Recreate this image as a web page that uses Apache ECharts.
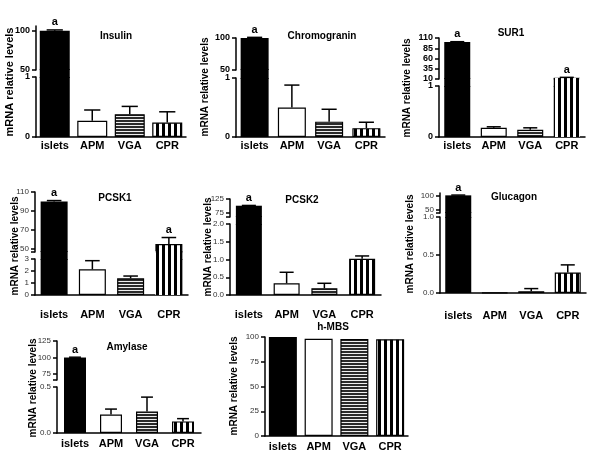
<!DOCTYPE html>
<html><head><meta charset="utf-8">
<script src="https://cdn.jsdelivr.net/npm/echarts@6/dist/echarts.min.js"></script>
<style>html,body{margin:0;padding:0;background:#fff}#c{width:600px;height:450px}</style>
</head><body><div id="c"></div>
<script>
// ---------- data ----------
const categories = ['islets', 'APM', 'VGA', 'CPR'];

const insulinValues = [100, 0.27, 0.38, 0.24];
const insulinErrors = [1, 0.18, 0.13, 0.18];
const insulinMarks = ['a', '', '', ''];
const insulinUpperRange = [50, 106];
const insulinUpperTicks = [50, 100];
const insulinLowerRange = [0, 1];
const insulinLowerTicks = [0, 1];

const chromograninValues = [100, 0.50, 0.26, 0.15];
const chromograninErrors = [1, 0.38, 0.21, 0.10];
const chromograninMarks = ['a', '', '', ''];
const chromograninUpperRange = [50, 100];
const chromograninUpperTicks = [50, 100];
const chromograninLowerRange = [0, 1];
const chromograninLowerTicks = [0, 1];

const sur1Values = [100, 0.18, 0.14, 13];
const sur1Errors = [1, 0.02, 0.04, 1];
const sur1Marks = ['a', '', '', 'a'];
const sur1UpperRange = [10, 110];
const sur1UpperTicks = [10, 35, 60, 85, 110];
const sur1LowerRange = [0, 1];
const sur1LowerTicks = [0, 1];

const pcsk1Values = [100, 2.14, 1.39, 55.3];
const pcsk1Errors = [1, 0.72, 0.19, 6.9];
const pcsk1Marks = ['a', '', '', 'a'];
const pcsk1UpperRange = [47, 110];
const pcsk1UpperTicks = [50, 70, 90, 110];
const pcsk1LowerRange = [0, 3];
const pcsk1LowerTicks = [0, 1, 2, 3];

const pcsk2Values = [100, 0.33, 0.19, 1.02];
const pcsk2Errors = [1, 0.31, 0.14, 0.08];
const pcsk2Marks = ['a', '', '', ''];
const pcsk2UpperRange = [58, 125];
const pcsk2UpperTicks = [75, 125];
const pcsk2LowerRange = [0, 2];
const pcsk2LowerTicks = [0, 0.5, 1, 1.5, 2];

const glucagonValues = [100, 0.005, 0.023, 0.27];
const glucagonErrors = [1, 0, 0.035, 0.10];
const glucagonMarks = ['a', '', '', ''];
const glucagonUpperRange = [40, 108];
const glucagonUpperTicks = [50, 100];
const glucagonLowerRange = [0, 1];
const glucagonLowerTicks = [0, 0.5, 1];

const amylaseValues = [100, 0.20, 0.235, 0.126];
const amylaseErrors = [0.5, 0.06, 0.155, 0.03];
const amylaseMarks = ['a', '', '', ''];
const amylaseUpperRange = [66, 125];
const amylaseUpperTicks = [75, 100, 125];
const amylaseLowerRange = [0, 0.5];
const amylaseLowerTicks = [0, 0.5];

const hmbsValues = [100, 98.3, 98, 97.8];
const hmbsErrors = [0, 0, 0, 0];
const hmbsMarks = ['', '', '', ''];
const hmbsRange = [0, 100];
const hmbsTicks = [0, 25, 50, 75, 100];

const yName = 'mRNA relative levels';

// ---------- styles ----------
const FONT = '"Liberation Sans", Arial, sans-serif';
function makeCanvas(w, h, draw) {
  const c = document.createElement('canvas'); c.width = w; c.height = h;
  draw(c.getContext('2d')); return c;
}
const hStripe = makeCanvas(3, 3, g => { g.fillStyle = '#eeeeee'; g.fillRect(0, 0, 3, 3); g.fillStyle = '#2a2a2a'; g.fillRect(0, 0, 3, 2); });
const vStripe = makeCanvas(6, 3, g => { g.fillStyle = '#ffffff'; g.fillRect(0, 0, 6, 3); g.fillStyle = '#000000'; g.fillRect(0, 0, 3, 3); });
const barFills = ['#000000', '#ffffff', { image: hStripe, repeat: 'repeat' }, { image: vStripe, repeat: 'repeat' }];

const option = {
  animation: false, backgroundColor: '#fff',
  textStyle: { fontFamily: FONT },
  grid: [], xAxis: [], yAxis: [], series: [], graphic: []
};

function addPanel(title, values, errors, marks, upperRange, upperTicks, lowerRange, lowerTicks, decimals, L) {
  const segs = [{ kind: 'lower', min: lowerRange[0], max: lowerRange[1], top: L.lower[0], bottom: L.lower[1], labels: lowerTicks, ticks: lowerTicks }];
  if (upperRange) {
    // thin hidden grid filling the gap so bars that cross the break stay continuous
    segs.push({ kind: 'bridge', min: lowerRange[1], max: upperRange[0], top: L.upper[1] - 1, bottom: L.lower[0] + 1 });
    const t = upperTicks.indexOf(upperRange[0]) >= 0 ? upperTicks : [upperRange[0]].concat(upperTicks);
    segs.push({ kind: 'upper', min: upperRange[0], max: upperRange[1], top: L.upper[0], bottom: L.upper[1], labels: upperTicks, ticks: t });
  }
  segs.forEach(s => {
    const gi = option.grid.length;
    option.grid.push({ left: L.left, width: L.right - L.left, top: s.top, height: s.bottom - s.top, outerBoundsMode: 'none' });
    option.xAxis.push({
      type: 'category', gridIndex: gi, data: categories, show: s.kind === 'lower',
      axisLine: { show: true, lineStyle: { color: '#000', width: 1.5 } },
      axisTick: { show: false },
      axisLabel: { margin: L.catMargin, fontSize: 11, fontWeight: 'bold', color: '#000', interval: 0, fontFamily: FONT }
    });
    const dec = s.kind === 'lower' ? decimals : 0;
    option.yAxis.push({
      type: 'value', gridIndex: gi, min: s.min, max: s.max, show: s.kind !== 'bridge',
      splitLine: { show: false },
      axisLine: { show: true, lineStyle: { color: '#000', width: 1.5 } },
      axisTick: { show: true, length: 4, lineStyle: { color: '#000', width: 1.5 }, customValues: s.ticks },
      axisLabel: {
        customValues: s.labels, margin: 6, fontFamily: FONT,
        fontSize: L.strong ? 9 : 8, fontWeight: L.strong ? 'bold' : 'normal', color: L.strong ? '#000' : '#333',
        formatter: v => Number(v).toFixed(dec)
      }
    });
    option.series.push({
      type: 'bar', xAxisIndex: gi, yAxisIndex: gi, barWidth: L.barWidth, clip: true, silent: true,
      z: s.kind === 'bridge' ? 3 : 2,
      data: values.map((v, i) => {
        const shown = s.kind === 'lower' ? true : v > s.min;
        const clipped = v > s.max;
        return {
          value: shown ? v : '-',
          itemStyle: { color: barFills[i], borderColor: '#000', borderWidth: clipped ? 0 : (i === 0 ? 0 : 1.2) }
        };
      })
    });
    if (s.kind === 'bridge') return;
    const errData = [];
    values.forEach((v, i) => {
      const inSeg = s.kind === 'lower' ? (v + errors[i] <= s.max) : (v > s.min);
      if (inSeg && (errors[i] > 0 || marks[i])) errData.push([i, v, errors[i]]);
    });
    const segMin = s.min;
    option.series.push({
      type: 'custom', xAxisIndex: gi, yAxisIndex: gi, clip: false, z: 5, silent: true,
      data: errData,
      renderItem: (params, api) => {
        const i = api.value(0), v = api.value(1), e = api.value(2);
        const base = api.coord([i, Math.max(v, segMin)]);
        const top = api.coord([i, v + e]);
        const half = L.barWidth * 0.27;
        const children = [];
        if (e > 0) {
          children.push({ type: 'line', shape: { x1: base[0], y1: base[1], x2: top[0], y2: top[1] }, style: { stroke: '#000', lineWidth: 1.5 } });
          children.push({ type: 'line', shape: { x1: top[0] - half, y1: top[1], x2: top[0] + half, y2: top[1] }, style: { stroke: '#000', lineWidth: 1.5 } });
        }
        const m = marks[i];
        if (m) {
          children.push({ type: 'text', x: top[0], y: top[1] - 2, style: { text: m, fill: '#000', font: 'bold 11px ' + FONT, align: 'center', verticalAlign: 'bottom' } });
        }
        return { type: 'group', children };
      }
    });
  });
  option.graphic.push({ type: 'text', x: L.title[0], y: L.title[1], silent: true,
    style: { text: title, fill: '#000', font: 'bold 10px ' + FONT, align: 'center', verticalAlign: 'middle' } });
  option.graphic.push({ type: 'text', x: L.yname[0], y: L.yname[1], rotation: Math.PI / 2, silent: true,
    style: { text: yName, fill: '#000', font: 'bold ' + L.ynameSize + 'px ' + FONT, align: 'center', verticalAlign: 'middle' } });
}

addPanel('Insulin', insulinValues, insulinErrors, insulinMarks, insulinUpperRange, insulinUpperTicks, insulinLowerRange, insulinLowerTicks, 0,
  { left: 36, right: 186, upper: [26, 70], lower: [77, 137], title: [116, 36], yname: [10, 82], ynameSize: 11, catMargin: 3, barWidth: 30, strong: true });
addPanel('Chromogranin', chromograninValues, chromograninErrors, chromograninMarks, chromograninUpperRange, chromograninUpperTicks, chromograninLowerRange, chromograninLowerTicks, 0,
  { left: 236, right: 385, upper: [38, 70], lower: [78, 137], title: [322, 36], yname: [205, 87], ynameSize: 10, catMargin: 3, barWidth: 28, strong: true });
addPanel('SUR1', sur1Values, sur1Errors, sur1Marks, sur1UpperRange, sur1UpperTicks, sur1LowerRange, sur1LowerTicks, 0,
  { left: 439, right: 585, upper: [38, 79], lower: [86, 137], title: [511, 33], yname: [407, 88], ynameSize: 10, catMargin: 3, barWidth: 26, strong: true });
addPanel('PCSK1', pcsk1Values, pcsk1Errors, pcsk1Marks, pcsk1UpperRange, pcsk1UpperTicks, pcsk1LowerRange, pcsk1LowerTicks, 0,
  { left: 35, right: 188, upper: [192, 252], lower: [259, 295], title: [115, 198], yname: [15, 246], ynameSize: 10, catMargin: 14, barWidth: 27, strong: false });
addPanel('PCSK2', pcsk2Values, pcsk2Errors, pcsk2Marks, pcsk2UpperRange, pcsk2UpperTicks, pcsk2LowerRange, pcsk2LowerTicks, 1,
  { left: 230, right: 381, upper: [199, 217], lower: [224, 295], title: [302, 200], yname: [208, 247], ynameSize: 10, catMargin: 14, barWidth: 26, strong: false });
addPanel('Glucagon', glucagonValues, glucagonErrors, glucagonMarks, glucagonUpperRange, glucagonUpperTicks, glucagonLowerRange, glucagonLowerTicks, 1,
  { left: 440, right: 586, upper: [193, 213], lower: [217, 293], title: [514, 197], yname: [410, 244], ynameSize: 10, catMargin: 17, barWidth: 26, strong: false });
addPanel('Amylase', amylaseValues, amylaseErrors, amylaseMarks, amylaseUpperRange, amylaseUpperTicks, amylaseLowerRange, amylaseLowerTicks, 1,
  { left: 57, right: 201, upper: [341, 380], lower: [387, 433], title: [127, 347], yname: [33, 388], ynameSize: 10, catMargin: 5, barWidth: 22, strong: false });
addPanel('h-MBS', hmbsValues, hmbsErrors, hmbsMarks, null, null, hmbsRange, hmbsTicks, 0,
  { left: 265, right: 408, upper: null, lower: [337, 436], title: [333, 327], yname: [234, 386], ynameSize: 10, catMargin: 5, barWidth: 28, strong: false });

const chart = echarts.init(document.getElementById('c'), null, { renderer: 'canvas' });
chart.setOption(option);
</script>
</body></html>
